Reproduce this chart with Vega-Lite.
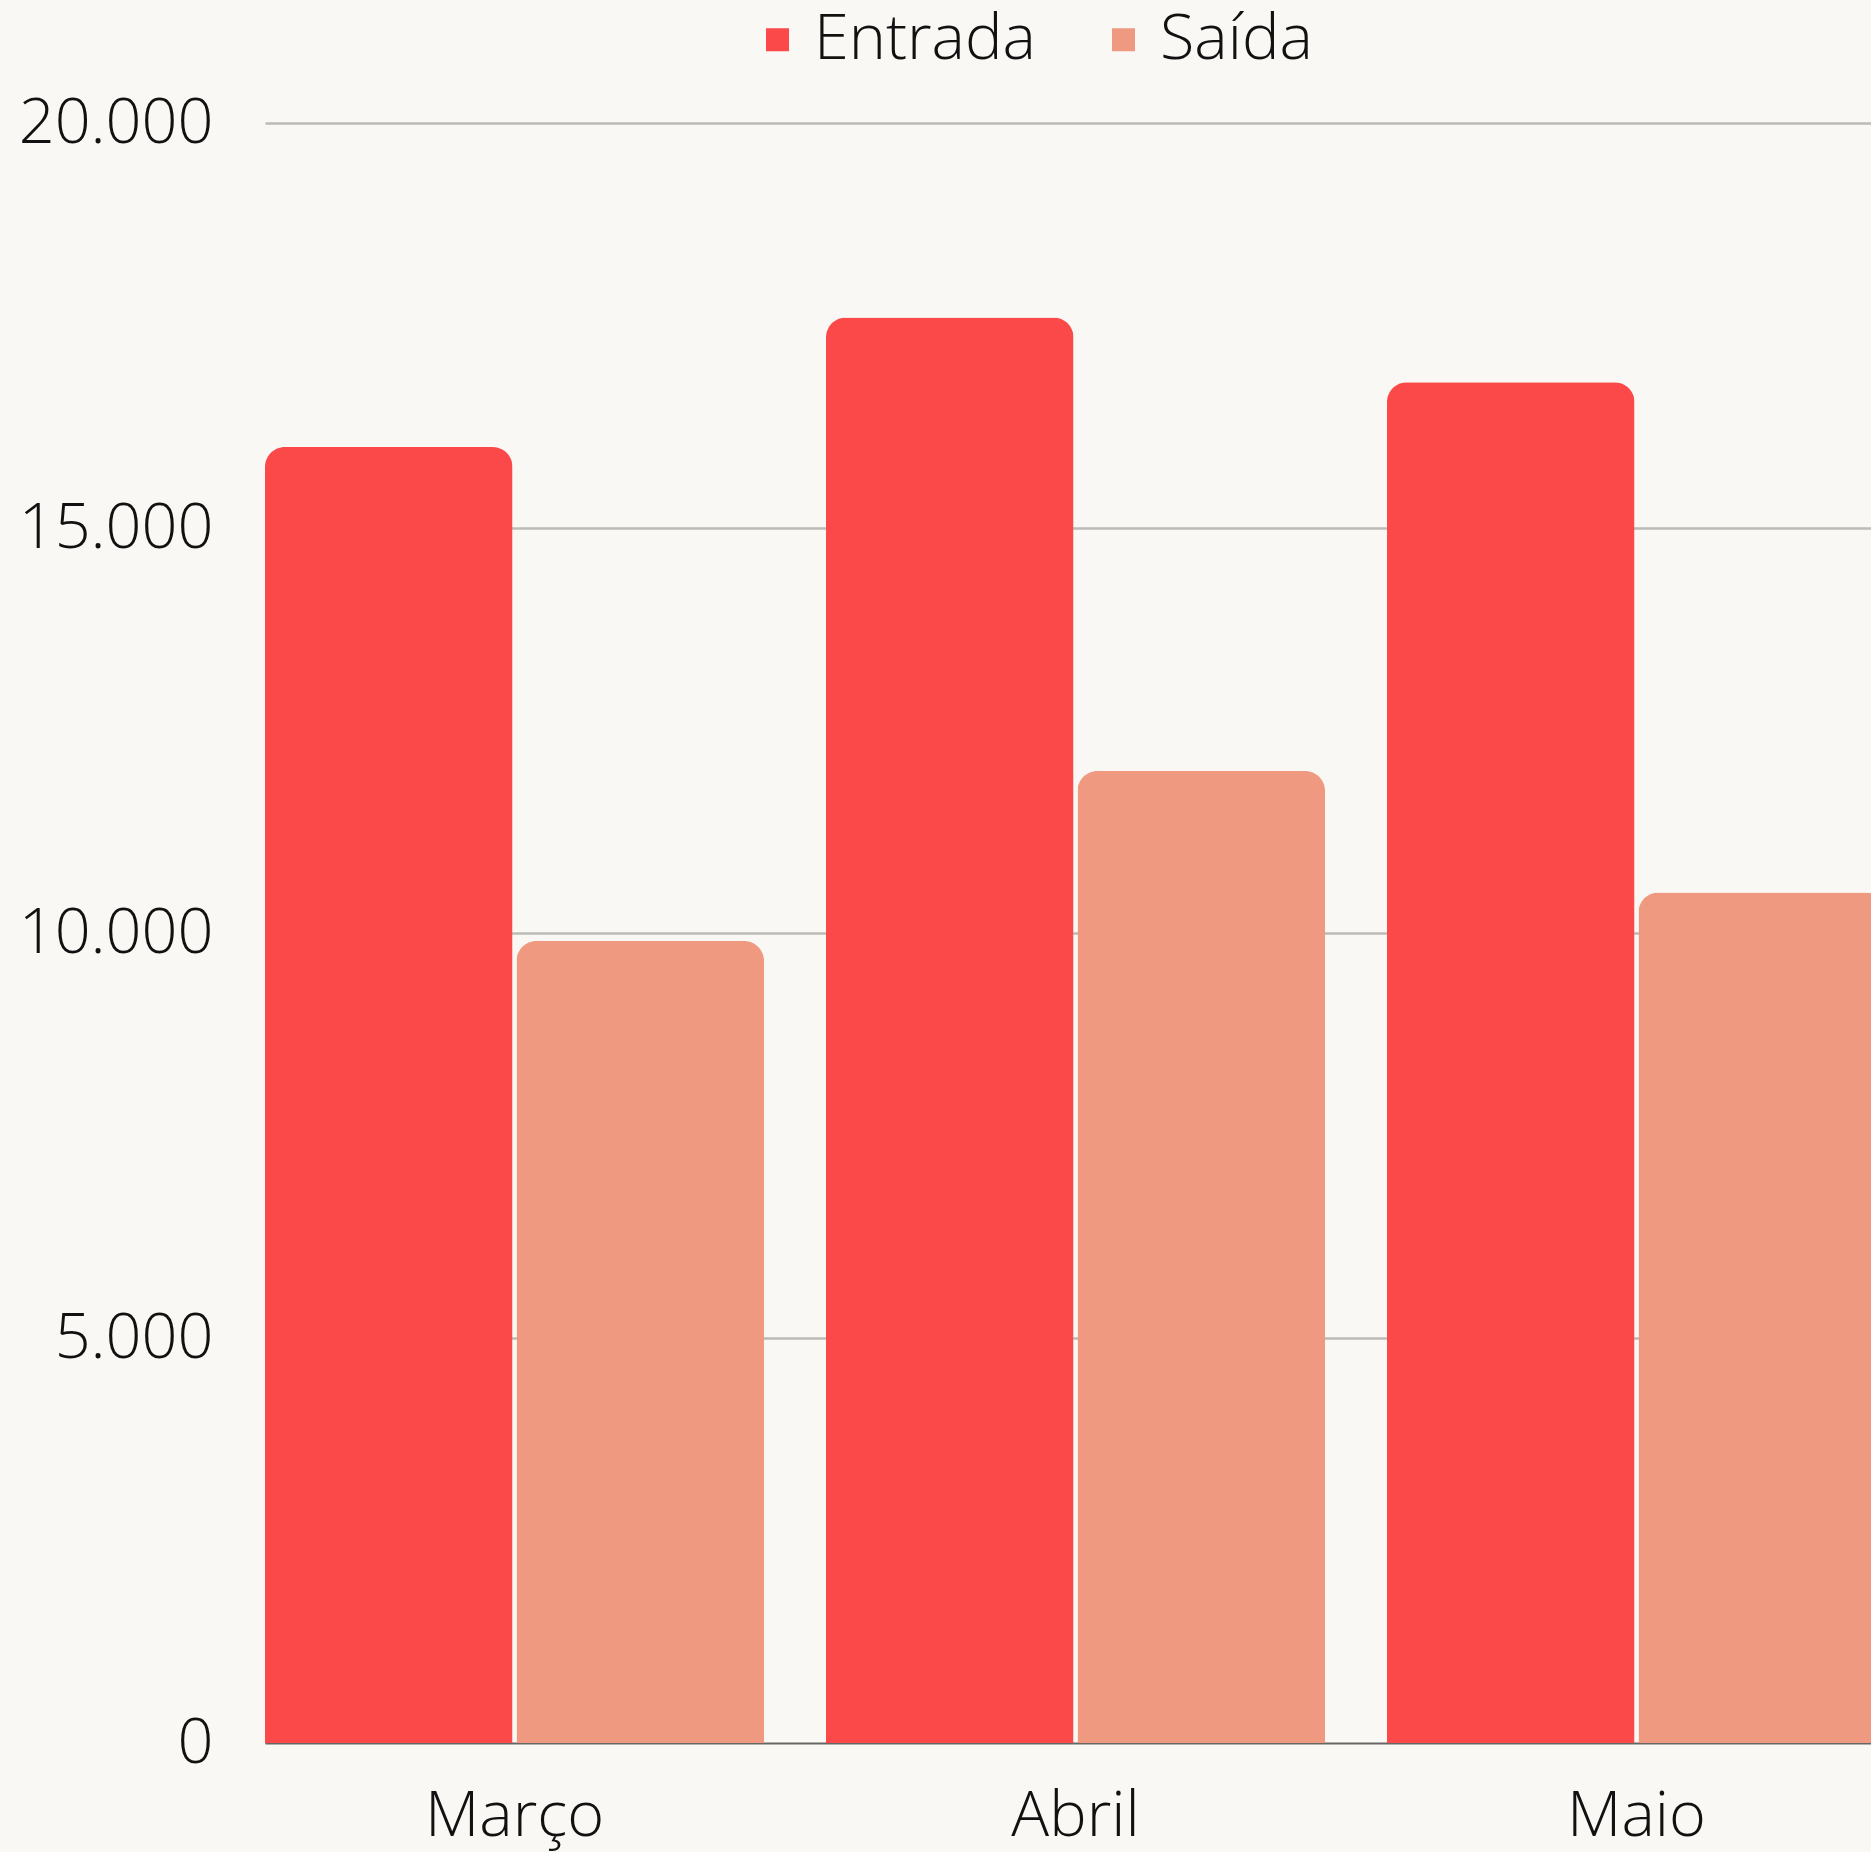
{
  "$schema": "https://vega.github.io/schema/vega-lite/v6.json",
  "autosize": {"type": "none"},
  "padding": {"left": 265, "top": 123, "right": 0, "bottom": 109},
  "width": 1606,
  "height": 1620,
  "background": "#f9f8f4",
  "data": {
    "values": [
      {"mes": "Março", "tipo": "Entrada", "valor": 16000},
      {"mes": "Março", "tipo": "Saída", "valor": 9900},
      {"mes": "Abril", "tipo": "Entrada", "valor": 17600},
      {"mes": "Abril", "tipo": "Saída", "valor": 12000},
      {"mes": "Maio", "tipo": "Entrada", "valor": 16800},
      {"mes": "Maio", "tipo": "Saída", "valor": 10500}
    ]
  },
  "mark": {"type": "bar", "cornerRadiusTopLeft": 20, "cornerRadiusTopRight": 20},
  "encoding": {
    "x": {
      "field": "mes",
      "type": "nominal",
      "sort": ["Março", "Abril", "Maio"],
      "scale": {"range": [0, 1621], "paddingInner": 0.1105, "paddingOuter": 0},
      "axis": {
        "title": null,
        "ticks": false,
        "labelAngle": 0,
        "labelFont": "Open Sans",
        "labelFontWeight": 300,
        "labelFontSize": 63,
        "labelColor": "#111111",
        "labelPadding": 42,
        "domainColor": "#666666",
        "domainWidth": 1.5,
        "grid": false
      }
    },
    "xOffset": {
      "field": "tipo",
      "type": "nominal",
      "scale": {"paddingInner": 0.0159, "paddingOuter": 0}
    },
    "y": {
      "field": "valor",
      "type": "quantitative",
      "scale": {"domain": [0, 20000], "nice": false},
      "axis": {
        "title": null,
        "values": [0, 5000, 10000, 15000, 20000],
        "labelExpr": "replace(format(datum.value, ','), ',', '.')",
        "domain": false,
        "ticks": false,
        "grid": true,
        "gridColor": "#bdbbb6",
        "gridWidth": 2.5,
        "labelFont": "Open Sans",
        "labelFontWeight": 300,
        "labelFontSize": 63,
        "labelColor": "#111111",
        "labelPadding": 52,
        "labelLimit": 0
      }
    },
    "color": {
      "field": "tipo",
      "type": "nominal",
      "scale": {"domain": ["Entrada", "Saída"], "range": ["#fb4848", "#ef9a80"]},
      "legend": {
        "title": null,
        "orient": "none",
        "legendX": 481,
        "legendY": -115,
        "direction": "horizontal",
        "symbolType": "square",
        "symbolSize": 529,
        "symbolStrokeWidth": 0,
        "labelFont": "Open Sans",
        "labelFontWeight": 300,
        "labelFontSize": 63,
        "labelColor": "#111111",
        "labelOffset": 5,
        "columnPadding": 56,
        "labelLimit": 0
      }
    }
  },
  "config": {"view": {"stroke": null}}
}
